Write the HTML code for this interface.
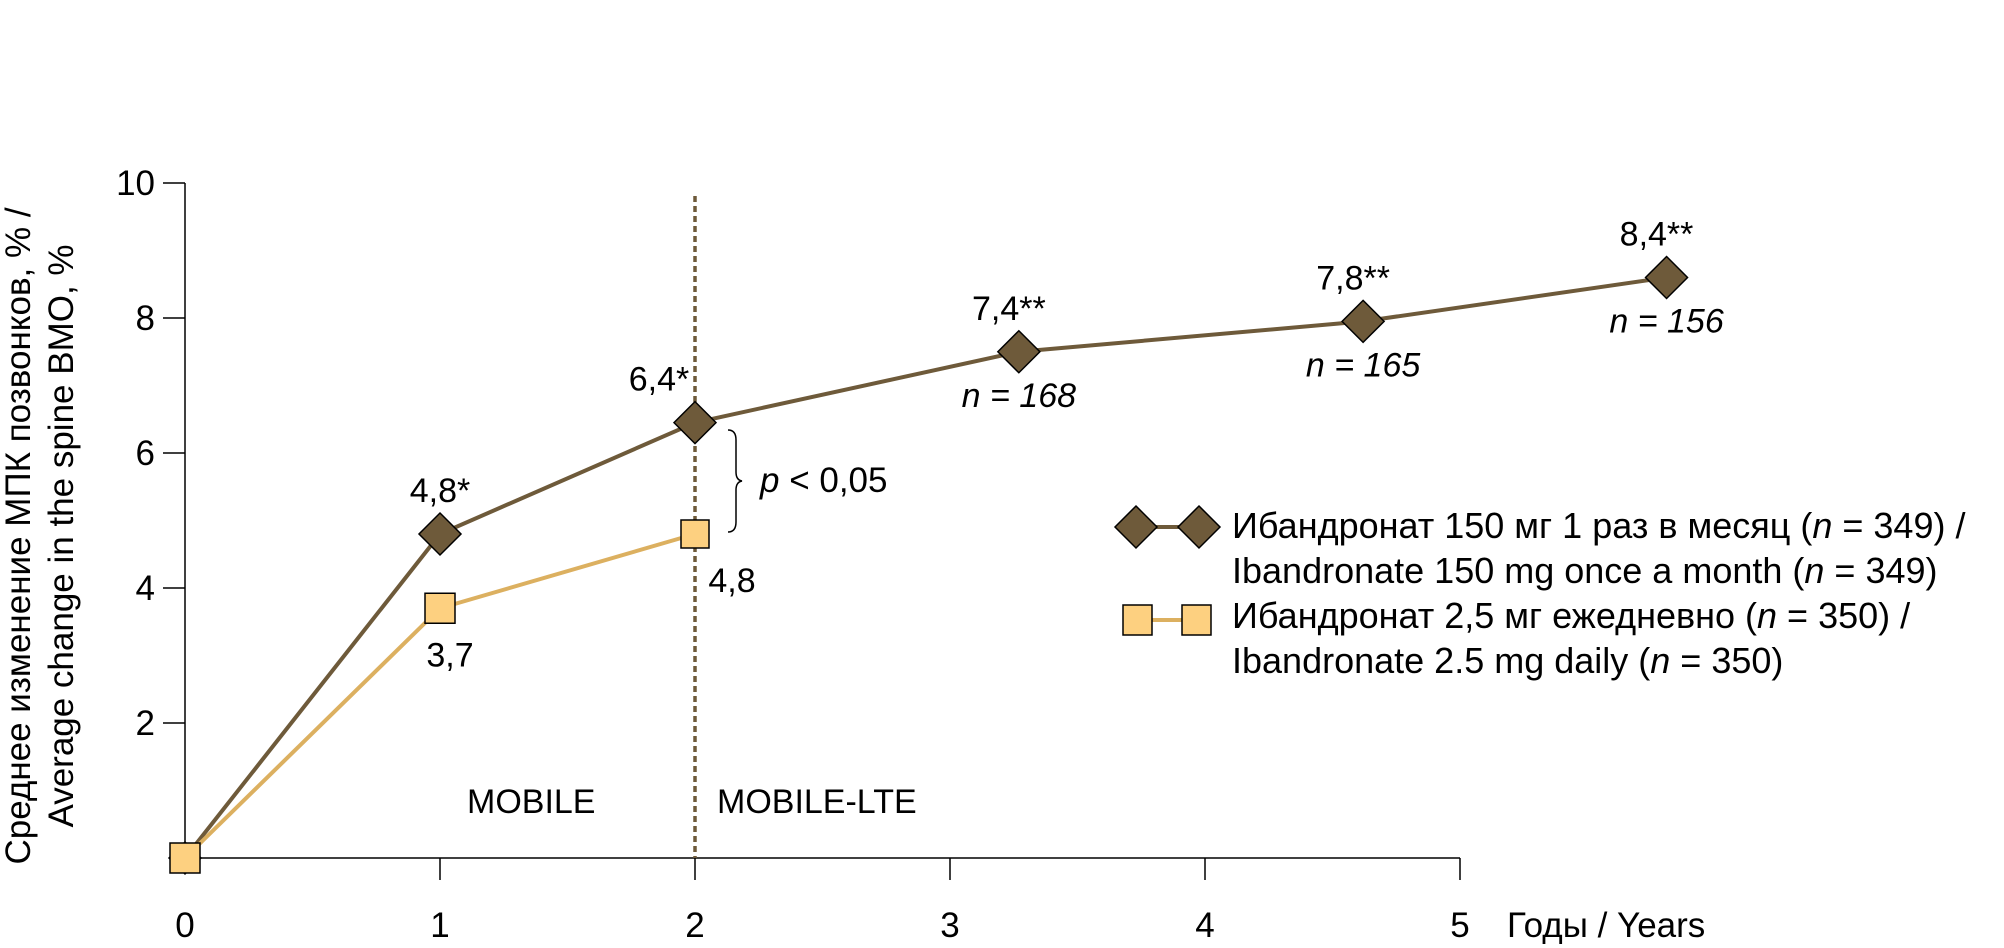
<!DOCTYPE html>
<html><head><meta charset="utf-8"><style>
html,body{margin:0;padding:0;background:#fff}
svg{display:block;font-family:"Liberation Sans",sans-serif}
</style></head><body>
<svg id="chart" width="2004" height="948" viewBox="0 0 2004 948">
<g id="axes"></g>
<g id="marks"></g>
<g id="labels"></g>
<text font-size="35" text-anchor="middle" transform="translate(30,536) rotate(-90)">Среднее изменение МПК позвонков, % /</text>
<text font-size="35" text-anchor="middle" transform="translate(73,536) rotate(-90)">Average change in the spine BMO, %</text>
<text font-size="35" x="1507" y="937">Годы / Years</text>
<text font-size="34" x="467" y="813">MOBILE</text>
<text font-size="34" x="717" y="813">MOBILE-LTE</text>
<path d="M728,430 Q736,430 736,440 L736,472 Q736,480 742,481 Q736,482 736,490 L736,522 Q736,532 728,532" fill="none" stroke="#000" stroke-width="1.5"/>
<text font-size="35" x="760" y="492"><tspan font-style="italic">p</tspan> &lt; 0,05</text>
<g>
<line x1="1136" y1="527" x2="1199" y2="527" stroke="#6e5a3a" stroke-width="4"/>
<polygon points="1136,506 1157,527 1136,548 1115,527" fill="#6e5a3a" stroke="#000" stroke-width="1.5"/>
<polygon points="1199,506 1220,527 1199,548 1178,527" fill="#6e5a3a" stroke="#000" stroke-width="1.5"/>
<line x1="1138" y1="620" x2="1197" y2="620" stroke="#dcb060" stroke-width="4"/>
<rect x="1123" y="605" width="29" height="30" fill="#fdd080" stroke="#000" stroke-width="1.5"/>
<rect x="1182" y="605" width="29" height="30" fill="#fdd080" stroke="#000" stroke-width="1.5"/>
<text font-size="36" x="1232" y="538">Ибандронат 150 мг 1 раз в месяц (<tspan font-style="italic">n</tspan> = 349) /</text>
<text font-size="36" x="1232" y="583">Ibandronate 150 mg once a month (<tspan font-style="italic">n</tspan> = 349)</text>
<text font-size="36" x="1232" y="628">Ибандронат 2,5 мг ежедневно (<tspan font-style="italic">n</tspan> = 350) /</text>
<text font-size="36" x="1232" y="673">Ibandronate 2.5 mg daily (<tspan font-style="italic">n</tspan> = 350)</text>
</g>
</svg>
<script>
const monthlyYears = [0, 1, 2, 3.27, 4.62, 5.81];
const monthlyValues = [0, 4.8, 6.45, 7.5, 7.95, 8.6];
const monthlyLabels = ["", "4,8*", "6,4*", "7,4**", "7,8**", "8,4**"];
const monthlyN = ["", "", "", "n = 168", "n = 165", "n = 156"];
const dailyYears = [0, 1, 2];
const dailyValues = [0, 3.7, 4.8];
const dailyLabels = ["", "3,7", "4,8"];
const xTicks = [0, 1, 2, 3, 4, 5];
const yTicks = [2, 4, 6, 8, 10];

const NS = "http://www.w3.org/2000/svg";
const X = v => 185 + v * 255;
const Y = v => 858 - v * 67.5;
function mk(tag, attrs, parent, txt) {
  const e = document.createElementNS(NS, tag);
  for (const k in attrs) e.setAttribute(k, attrs[k]);
  if (txt !== undefined) e.textContent = txt;
  parent.appendChild(e);
  return e;
}
const axes = document.getElementById('axes');
const marks = document.getElementById('marks');
const labels = document.getElementById('labels');

let e = mk('line', {x1: X(0), y1: Y(0), x2: X(5), y2: Y(0), stroke: '#000', 'stroke-width': 1.5}, axes);


e = mk('line', {x1: X(0), y1: Y(0), x2: X(0), y2: Y(10), stroke: '#000', 'stroke-width': 1.5}, axes);


xTicks.forEach(t => {
  if (t > 0) mk('line', {x1: X(t), y1: Y(0), x2: X(t), y2: Y(0) + 22, stroke: '#000', 'stroke-width': 1.5}, axes);
  const l = mk('text', {x: X(t), y: 937, 'font-size': 35, 'text-anchor': 'middle'}, axes, String(t));
  
  
});
yTicks.forEach(t => {
  mk('line', {x1: X(0) - 22, y1: Y(t), x2: X(0), y2: Y(t), stroke: '#000', 'stroke-width': 1.5}, axes);
  const l = mk('text', {x: 155, y: Y(t) + 12, 'font-size': 35, 'text-anchor': 'end'}, axes, String(t));
  
  
});
e = mk('line', {x1: X(2), y1: 196, x2: X(2), y2: Y(0), stroke: '#6e5a3a', 'stroke-width': 3.5, 'stroke-dasharray': '6,4'}, axes);



e = mk('polyline', {points: monthlyYears.map((x, i) => X(x) + ',' + Y(monthlyValues[i])).join(' '), fill: 'none', stroke: '#6e5a3a', 'stroke-width': 4}, marks);


e = mk('polyline', {points: dailyYears.map((x, i) => X(x) + ',' + Y(dailyValues[i])).join(' '), fill: 'none', stroke: '#dcb060', 'stroke-width': 4}, marks);



monthlyYears.forEach((x, i) => {
  const cx = X(x), cy = Y(monthlyValues[i]);
  const r = i === 0 ? 16 : 21;
  const d = mk('polygon', {points: `${cx},${cy - r} ${cx + r},${cy} ${cx},${cy + r} ${cx - r},${cy}`, fill: i === 0 ? '#9a5aa0' : '#6e5a3a', stroke: '#000', 'stroke-width': 1.5}, marks);
  
  
  if (monthlyLabels[i]) {
    const dx = i === 2 ? -36 : (i >= 3 ? -10 : 0);
    const t = mk('text', {x: cx + dx, y: cy - 32, 'font-size': 34, 'text-anchor': 'middle'}, labels, monthlyLabels[i]);
    
    
  }
  if (monthlyN[i]) {
    const t = mk('text', {x: cx, y: cy + 55, 'font-size': 34, 'text-anchor': 'middle', 'font-style': 'italic'}, labels, monthlyN[i]);
    
    
  }
});
dailyYears.forEach((x, i) => {
  const cx = X(x), cy = Y(dailyValues[i]);
  const s = i === 2 ? 28 : 30;
  const r = mk('rect', {x: cx - s / 2, y: cy - s / 2, width: s, height: s, fill: '#fdd080', stroke: '#000', 'stroke-width': 1.5}, marks);
  
  
  if (dailyLabels[i]) {
    const dx = i === 2 ? 37 : 10;
    const t = mk('text', {x: cx + dx, y: cy + 58, 'font-size': 34, 'text-anchor': 'middle'}, labels, dailyLabels[i]);
    
    
  }
});
</script>
</body></html>
